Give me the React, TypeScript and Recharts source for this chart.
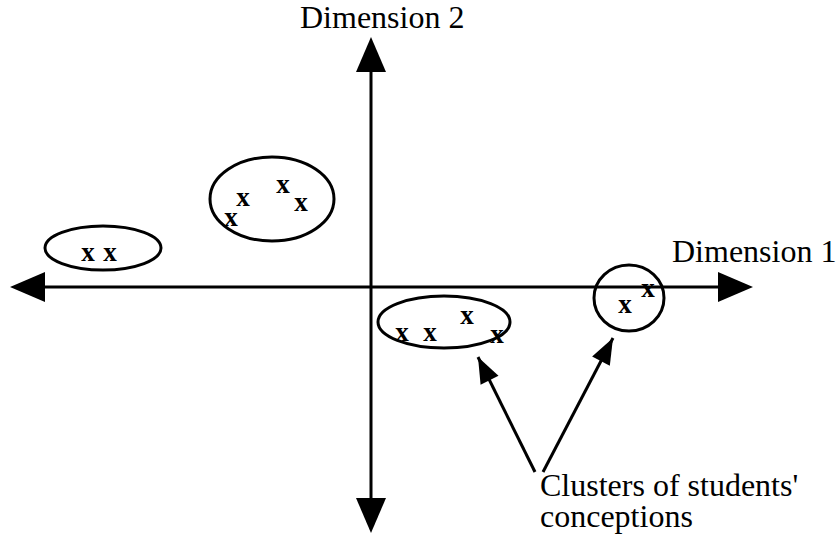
import React from 'react';
import { ScatterChart, Scatter, XAxis, YAxis, ReferenceLine } from 'recharts';

// diagram units: origin at the axes crossing, y up, 1 unit = 1 px
const clusters = [
  { x: -268, y: 39, rx: 58, ry: 22 },
  { x: -99, y: 88, rx: 62, ry: 42 },
  { x: 73, y: -35, rx: 66, ry: 26 },
  { x: 258, y: -11, rx: 35, ry: 33 },
];

const conceptions = [
  { x: -283, y: 34 }, { x: -261, y: 34 },
  { x: -128, y: 89 }, { x: -88, y: 102 }, { x: -70, y: 84 }, { x: -140, y: 69 },
  { x: 31, y: -46 }, { x: 59, y: -46 }, { x: 96, y: -29 }, { x: 126, y: -48 },
  { x: 254, y: -18 }, { x: 277, y: -2 },
];

const axisHeads = [
  { x: 382, y: 0, dir: 0 },
  { x: -361, y: 0, dir: 180 },
  { x: 0, y: 250, dir: 90 },
  { x: 0, y: -246, dir: 270 },
];

const pointers = [
  { from: { x: 164, y: -185 }, to: { x: 107, y: -70 } },
  { from: { x: 172, y: -185 }, to: { x: 242, y: -51 } },
];

const labels = [
  { x: -71, y: 259, text: 'Dimension 2' },
  { x: 301, y: 25, text: 'Dimension 1' },
  { x: 169, y: -209, text: "Clusters of students'" },
  { x: 169, y: -240, text: 'conceptions' },
];

const serif = '"Liberation Serif", "Times New Roman", serif';

const pointerHeads = pointers.map((p) => ({
  x: p.to.x,
  y: p.to.y,
  dir: (Math.atan2(p.to.y - p.from.y, p.to.x - p.from.x) * 180) / Math.PI,
  small: true,
}));

const Ellipse = (props: any) => (
  <ellipse cx={props.cx} cy={props.cy} rx={props.payload.rx} ry={props.payload.ry} fill="none" stroke="#000" strokeWidth={3} />
);

const Mark = (props: any) => (
  <text x={props.cx} y={props.cy} dy="0.3em" textAnchor="middle" fontFamily={serif} fontWeight="bold" fontSize={27} fill="#000">
    x
  </text>
);

const Head = (props: any) => {
  const { cx, cy, payload } = props;
  const len = payload.small ? 26 : 35;
  const half = payload.small ? 10 : 15;
  const a = (-payload.dir * Math.PI) / 180;
  const bx = cx - len * Math.cos(a);
  const by = cy - len * Math.sin(a);
  const nx = -Math.sin(a) * half;
  const ny = Math.cos(a) * half;
  return <polygon points={`${cx},${cy} ${bx + nx},${by + ny} ${bx - nx},${by - ny}`} fill="#000" />;
};

const Label = (props: any) => (
  <text x={props.cx} y={props.cy} fontFamily={serif} fontSize={32} fill="#000">
    {props.payload.text}
  </text>
);

export default function App() {
  return (
    <div style={{ position: 'absolute', left: 0, top: 0, background: '#fff' }}>
      <ScatterChart width={840} height={535} margin={{ top: 0, right: 0, bottom: 0, left: 0 }}>
        <XAxis type="number" dataKey="x" domain={[-371, 469]} hide allowDataOverflow />
        <YAxis type="number" dataKey="y" domain={[-248, 287]} hide allowDataOverflow />
        <ReferenceLine segment={[{ x: -350, y: 0 }, { x: 370, y: 0 }]} stroke="#000" strokeWidth={3} ifOverflow="visible" />
        <ReferenceLine segment={[{ x: 0, y: 240 }, { x: 0, y: -236 }]} stroke="#000" strokeWidth={3} ifOverflow="visible" />
        {pointers.map((p, i) => (
          <ReferenceLine key={i} segment={[p.from, p.to]} stroke="#000" strokeWidth={3} ifOverflow="visible" />
        ))}
        <Scatter data={clusters} shape={<Ellipse />} isAnimationActive={false} />
        <Scatter data={conceptions} shape={<Mark />} isAnimationActive={false} />
        <Scatter data={axisHeads} shape={<Head />} isAnimationActive={false} />
        <Scatter data={pointerHeads} shape={<Head />} isAnimationActive={false} />
        <Scatter data={labels} shape={<Label />} isAnimationActive={false} />
      </ScatterChart>
    </div>
  );
}
